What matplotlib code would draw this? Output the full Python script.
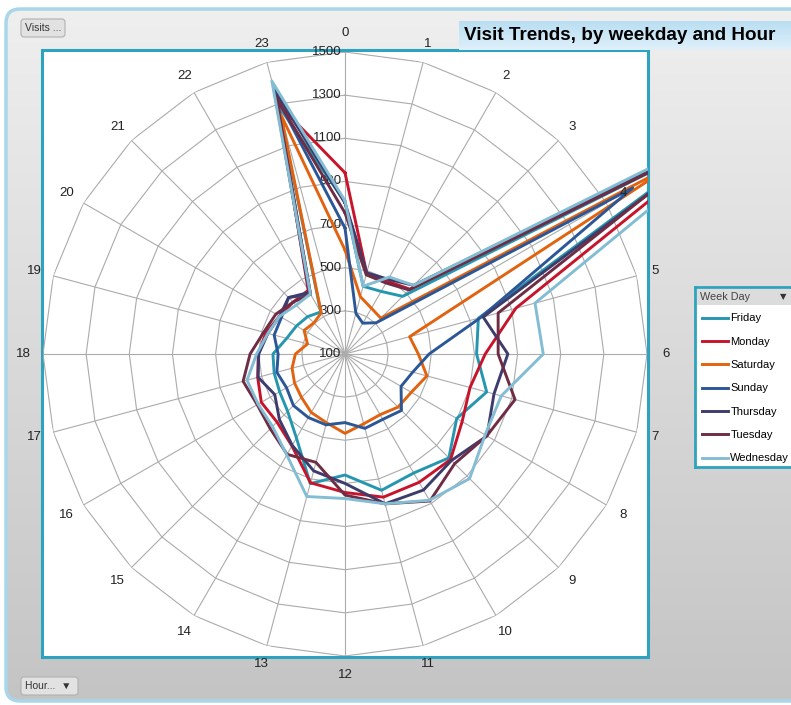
import numpy as np
import matplotlib.pyplot as plt
from matplotlib.patches import Rectangle, FancyBboxPatch
from matplotlib.colors import LinearSegmentedColormap

W, H = 791, 705

hours = list(range(24))
days = ['Friday', 'Monday', 'Saturday', 'Sunday', 'Thursday', 'Tuesday', 'Wednesday']
colors = ['#2596b0', '#c8142b', '#e2630f', '#2c5797', '#3d3c6c', '#6e2c45', '#83bdd4']

friday    = [805, 425, 435, 478, 2150, 740, 710, 780, 698, 781, 737, 754, 661, 722, 550, 476, 450, 440, 434, 380, 360, 345, 325, 1290]
monday    = [940, 488, 490, 525, 2250, 920, 750, 700, 727, 792, 787, 787, 742, 718, 592, 546, 548, 519, 502, 480, 450, 440, 441, 1300]
saturday  = [582, 375, 345, 335, 1850, 410, 440, 493, 455, 448, 425, 435, 468, 430, 413, 385, 370, 354, 330, 280, 319, 304, 320, 1250]
sunday    = [684, 295, 265, 305, 1640, 750, 490, 425, 400, 470, 450, 457, 418, 440, 440, 438, 413, 427, 410, 440, 440, 470, 420, 1340]
thursday  = [800, 490, 500, 550, 2200, 763, 855, 815, 860, 798, 828, 819, 700, 661, 589, 530, 476, 517, 500, 470, 450, 470, 430, 1370]
tuesday   = [754, 480, 480, 520, 2100, 835, 810, 916, 859, 819, 887, 819, 754, 620, 637, 590, 570, 589, 540, 490, 470, 440, 420, 1330]
wednesday = [810, 425, 512, 550, 2400, 1012, 1019, 850, 850, 917, 883, 819, 770, 784, 640, 575, 565, 570, 510, 470, 450, 420, 421, 1410]
series = [friday, monday, saturday, sunday, thursday, tuesday, wednesday]

rings = [300, 500, 700, 900, 1100, 1300, 1500]
rlabels = [100, 300, 500, 700, 900, 1100, 1300, 1500]

plt.rcParams['font.family'] = ['Liberation Sans', 'DejaVu Sans']

fig = plt.figure(figsize=(W / 100, H / 100), dpi=100)
fig.patch.set_facecolor('white')

# background in pixel coordinates
bg = fig.add_axes([0, 0, 1, 1], zorder=-10)
bg.set_xlim(0, W)
bg.set_ylim(H, 0)
bg.axis('off')
cmap = LinearSegmentedColormap.from_list('g', ['#efefef', '#c4c4c4'])
grad = np.linspace(0, 1, 256).reshape(-1, 1)
frame = FancyBboxPatch((6, 9), 800, 692, boxstyle='round,pad=0,rounding_size=14',
                       facecolor='none', edgecolor='#a9d6e8', lw=2.5)
bg.add_patch(frame)
im = bg.imshow(grad, extent=[6, 806, 701, 9], aspect='auto', cmap=cmap, zorder=0)
im.set_clip_path(frame)

# plot area
bg.add_patch(Rectangle((42, 50), 606, 607, facecolor='white', edgecolor='#2ea3bf', lw=2.2, zorder=2))
clip = Rectangle((42, 50), 606, 607, transform=bg.transData)

# title box
tcmap = LinearSegmentedColormap.from_list('t', ['#b9def2', '#dff0fa'])
tbox = Rectangle((459, 21), 340, 29, transform=bg.transData)
im2 = bg.imshow(grad, extent=[459, 799, 50, 21], aspect='auto', cmap=tcmap, zorder=3)
im2.set_clip_path(tbox)
bg.text(464, 36, 'Visit Trends, by weekday and Hour', fontsize=13.6, fontweight='bold',
        ha='left', va='center', zorder=4)

# field buttons
for (x0, y0, w, h, s) in [(21, 19, 44, 18, 'Visits ...'), (21, 677, 57, 18, 'Hour...  \u25bc')]:
    bg.add_patch(FancyBboxPatch((x0, y0), w, h, boxstyle='round,pad=0,rounding_size=3',
                                facecolor='#e2e2e2', edgecolor='#b0b0b0', lw=0.8, zorder=3))
    bg.text(x0 + 4, y0 + h / 2, s, fontsize=7.5, color='#333333', ha='left', va='center', zorder=4)

# radar axes
cx, cy, R = 345, 354, 302
ax = fig.add_axes([(cx - R) / W, (H - cy - R) / H, 2 * R / W, 2 * R / H], projection='polar')
ax.set_theta_zero_location('N')
ax.set_theta_direction(-1)
ax.patch.set_visible(False)
ax.spines['polar'].set_visible(False)
ax.grid(False)
ax.set_xticks([])
ax.set_yticks([])

theta = np.deg2rad(np.array(hours) * 15.0)
tclosed = np.append(theta, theta[0])
for v in rings:
    ax.plot(tclosed, [v] * 25, color='#ababab', lw=0.8, zorder=1)
for t in theta:
    ax.plot([t, t], [100, 1500], color='#ababab', lw=0.8, zorder=1)

lines = []
for vals, c in zip(series, colors):
    ln, = ax.plot(tclosed, vals + vals[:1], color=c, lw=2.1, zorder=3)
    ln.set_clip_path(clip)
    lines.append(ln)

ax.set_ylim(100, 1500)

for h, t in zip(hours, theta):
    ax.text(t, 1590, str(h), ha='center', va='center', fontsize=9.5, color='#222222')
for v in rlabels:
    ax.annotate(str(v), xy=(0, v), xytext=(-2.5, 0), textcoords='offset points',
                ha='right', va='center', fontsize=9.5, color='#222222', zorder=2)

# legend
lax = fig.add_axes([695 / W, (H - 467) / H, 100 / W, 180 / H])
lax.set_xlim(695, 795)
lax.set_ylim(467, 287)
lax.set_xticks([])
lax.set_yticks([])
for s in lax.spines.values():
    s.set_color('#2ea3bf')
    s.set_linewidth(2)
lax.add_patch(Rectangle((697, 289), 98, 16, facecolor='#dcdcdc', edgecolor='none'))
lax.text(700, 297, 'Week Day', fontsize=7.8, color='#444444', ha='left', va='center')
lax.text(783, 297, '\u25bc', fontsize=6, color='#333333', ha='center', va='center',
         family=['DejaVu Sans'])
lax.legend(lines, days, loc='upper left', bbox_to_anchor=(0.065, 0.853), frameon=False,
           fontsize=8.0, handlelength=2.35, handletextpad=0.25, labelspacing=1.2,
           borderaxespad=0, borderpad=0)

fig.savefig('out.png', dpi=100)
